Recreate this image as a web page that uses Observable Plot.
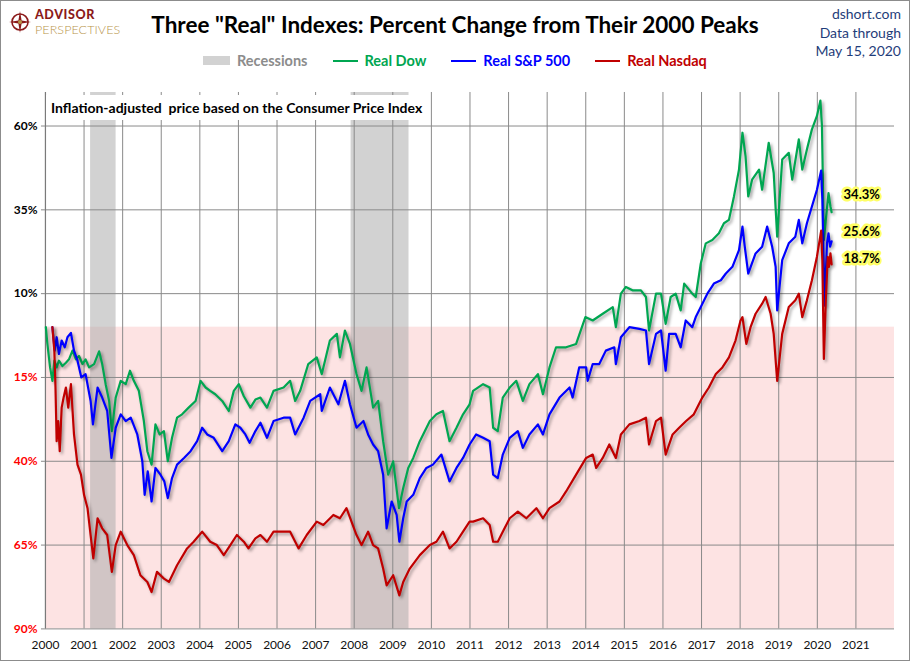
<!DOCTYPE html>
<html><head><meta charset="utf-8">
<script src="https://cdn.jsdelivr.net/npm/d3@7"></script>
<script src="https://cdn.jsdelivr.net/npm/@observablehq/plot@0.6"></script>
<style>
html,body{margin:0;padding:0;background:#fff;}
body{font-family:Lato,"DejaVu Sans",sans-serif;}
#wrap{position:relative;width:910px;height:661px;box-sizing:border-box;border:1px solid #8c8c8c;overflow:hidden;background:#fff;}
#logo{position:absolute;left:7px;top:6px;display:flex;align-items:center;}
#logo .t1{font-weight:900;color:#8b1a1a;font-size:12.5px;line-height:15px;letter-spacing:0.6px;}
#logo .t2{font-weight:300;color:#b8944a;font-size:12.5px;line-height:15px;letter-spacing:0.1px;}
#title{position:absolute;left:0;width:908px;top:10px;text-align:center;font-weight:700;font-size:22.5px;color:#000;}
#src{position:absolute;right:8px;top:4px;text-align:right;color:#1f3d7a;font-size:14px;line-height:18.5px;}
#legend{position:absolute;top:51px;left:202px;display:flex;align-items:center;font-weight:700;font-size:14.5px;}
#legend .item{display:flex;align-items:center;margin-right:25px;}
#legend .sw{margin-right:7px;}
#chart{position:absolute;left:-1px;top:84px;}
#note{position:absolute;left:45px;top:94px;width:380px;height:25px;background:#fff;font-weight:700;font-size:14px;line-height:25px;padding-left:5px;box-sizing:border-box;color:#000;white-space:nowrap;}
</style></head><body>
<div id="wrap">
  <div id="logo">
    <svg width="24" height="24" viewBox="-12 -12 24 24" style="margin-right:3px">
      <circle r="8" fill="none" stroke="#8b1a1a" stroke-width="1.6"/>
      <path d="M0,-11 L1.6,-1.6 L11,0 L1.6,1.6 L0,11 L-1.6,1.6 L-11,0 L-1.6,-1.6 Z" fill="#8b1a1a"/>
      <circle r="2" fill="#b8944a"/>
    </svg>
    <div><div class="t1">ADVISOR</div><div class="t2">PERSPECTIVES</div></div>
  </div>
  <div id="title">Three "Real" Indexes: Percent Change from Their 2000 Peaks</div>
  <div id="src">dshort.com<br>Data through<br>May 15, 2020</div>
  <div id="legend"></div>
  <div id="chart"></div>
  <div id="note">Inflation-adjusted&nbsp; price based on the Consumer Price Index</div>
</div>
<script>
// ---------------- data ----------------
const seriesNames = ["Real Dow", "Real S&P 500", "Real Nasdaq"];
const seriesColors = ["#00a651", "#0000ff", "#c00000"];
const recessionLabel = "Recessions";
const recessionStarts = [2001.17, 2007.92];
const recessionEnds = [2001.83, 2009.42];
const yTicks = [-90, -65, -40, -15, 10, 35, 60];
const xTicks = d3.range(2000, 2022);
const lastValues = [34.3, 25.6, 18.7];
const lastDate = 2020.37;

// [year, percent change from 2000 peak]
const dow = [
[2000.01,0],[2000.05,-5],[2000.12,-12],[2000.18,-16],[2000.23,-10],[2000.29,-12],[2000.35,-10],[2000.44,-11.6],[2000.53,-10.6],[2000.61,-9.6],[2000.70,-7],[2000.79,-9.6],[2000.87,-8.6],[2000.96,-11],[2001.04,-9.6],[2001.13,-12],[2001.26,-11],[2001.39,-7.2],[2001.47,-11],[2001.56,-17],[2001.65,-22],[2001.72,-31],[2001.82,-21],[2001.95,-16],[2002.08,-17],[2002.19,-13],[2002.29,-16],[2002.42,-19],[2002.55,-28],[2002.64,-37],[2002.75,-41],[2002.85,-29],[2002.96,-32],[2003.07,-31],[2003.17,-40],[2003.28,-33],[2003.41,-27],[2003.54,-26],[2003.71,-24],[2003.89,-22],[2004.02,-16],[2004.15,-18],[2004.27,-19],[2004.40,-20],[2004.58,-22],[2004.75,-25],[2004.88,-19],[2005.01,-17],[2005.14,-20.6],[2005.31,-24],[2005.44,-21.6],[2005.57,-21],[2005.74,-24],[2005.91,-19],[2006.17,-18],[2006.34,-16],[2006.47,-22],[2006.60,-19],[2006.81,-11],[2007.03,-9],[2007.16,-14],[2007.37,-4],[2007.55,-2],[2007.63,-9],[2007.76,-1],[2007.89,-5],[2008.06,-14],[2008.19,-19],[2008.32,-12],[2008.49,-24],[2008.62,-22],[2008.75,-34],[2008.88,-44],[2009.01,-40],[2009.16,-54],[2009.27,-48],[2009.40,-42],[2009.53,-39],[2009.70,-34],[2009.96,-28],[2010.13,-26],[2010.30,-25],[2010.47,-34],[2010.65,-30],[2010.82,-26],[2010.99,-23],[2011.08,-19],[2011.34,-17],[2011.51,-18],[2011.60,-30],[2011.72,-31],[2011.85,-21],[2012.03,-18],[2012.20,-16],[2012.37,-22],[2012.54,-17],[2012.76,-14],[2012.89,-20],[2013.06,-12],[2013.23,-6],[2013.49,-6],[2013.75,-5],[2013.99,3],[2014.18,2],[2014.44,4],[2014.70,6],[2014.78,0],[2014.91,10],[2015.04,12],[2015.21,11],[2015.43,11],[2015.56,9],[2015.64,-1],[2015.82,10],[2015.95,10],[2016.07,1],[2016.20,9],[2016.33,10],[2016.46,5],[2016.55,13],[2016.76,10],[2016.85,9],[2016.98,19],[2017.11,25],[2017.28,26],[2017.45,28],[2017.58,31],[2017.71,32],[2017.84,39],[2017.97,47],[2018.06,58],[2018.14,51],[2018.21,39],[2018.31,44],[2018.49,47],[2018.57,41],[2018.74,55],[2018.87,46],[2018.96,27],[2019.09,50],[2019.26,52],[2019.35,44],[2019.52,56],[2019.61,47],[2019.73,53],[2019.86,59],[2019.99,63],[2020.08,67.6],[2020.12,60],[2020.17,26],[2020.22,32],[2020.29,40],[2020.34,36],[2020.37,34.3]
];
const sp500 = [
[2000.18,0],[2000.24,-7],[2000.29,-3],[2000.35,-8],[2000.42,-4],[2000.50,-6],[2000.57,-3],[2000.66,-1.7],[2000.74,-7],[2000.83,-10],[2000.93,-15],[2001.04,-14],[2001.17,-22],[2001.23,-29],[2001.35,-18],[2001.47,-21],[2001.60,-25],[2001.71,-39],[2001.82,-30],[2001.95,-26],[2002.08,-28],[2002.21,-27],[2002.38,-32],[2002.51,-40],[2002.57,-50],[2002.65,-43],[2002.75,-52],[2002.85,-42],[2002.98,-44],[2003.08,-46],[2003.17,-51],[2003.28,-45],[2003.41,-41],[2003.59,-39],[2003.76,-37],[2003.93,-34],[2004.06,-30],[2004.19,-32],[2004.36,-33],[2004.58,-37],[2004.75,-34],[2004.92,-29],[2005.05,-30],[2005.18,-32],[2005.29,-34.5],[2005.44,-31],[2005.57,-28.5],[2005.74,-33],[2005.91,-28],[2006.17,-27],[2006.34,-27],[2006.47,-32],[2006.69,-27],[2006.86,-22],[2007.12,-20],[2007.16,-25],[2007.37,-18],[2007.59,-23],[2007.76,-16],[2007.89,-23],[2008.06,-30],[2008.24,-28],[2008.36,-32],[2008.49,-35],[2008.62,-37],[2008.75,-44],[2008.84,-60],[2008.97,-52],[2009.10,-56],[2009.17,-64],[2009.27,-57],[2009.36,-52],[2009.53,-50],[2009.70,-45],[2009.87,-42],[2010.04,-41],[2010.26,-38],[2010.47,-46],[2010.65,-42],[2010.82,-39],[2010.99,-35],[2011.16,-32],[2011.34,-33],[2011.51,-34],[2011.60,-44],[2011.72,-45],[2011.85,-38],[2012.03,-33],[2012.24,-31],[2012.37,-36],[2012.54,-32],[2012.76,-29],[2012.89,-32],[2013.06,-26],[2013.32,-21],[2013.58,-18],[2013.66,-21],[2013.83,-12],[2014.01,-12],[2014.05,-16],[2014.18,-11],[2014.35,-11],[2014.52,-7],[2014.74,-6],[2014.78,-11],[2014.91,-3],[2015.13,0],[2015.39,-0.5],[2015.56,-1],[2015.64,-11],[2015.82,-2],[2015.95,-1],[2016.07,-13],[2016.16,-2],[2016.33,-2],[2016.46,-6],[2016.59,2],[2016.76,0],[2016.85,3],[2016.98,6],[2017.15,10],[2017.32,13],[2017.50,14],[2017.63,16],[2017.80,18],[2017.97,23],[2018.06,30],[2018.12,24],[2018.21,16],[2018.40,22],[2018.57,24],[2018.70,30],[2018.83,24],[2018.92,18],[2018.96,5],[2019.09,20],[2019.26,25],[2019.43,27],[2019.52,32],[2019.61,25],[2019.73,31],[2019.86,36],[2019.99,41],[2020.10,46.7],[2020.13,38],[2020.19,6.4],[2020.25,25],[2020.29,28],[2020.33,24],[2020.37,25.6]
];
const nasdaq = [
[2000.18,0],[2000.23,-7],[2000.26,-18],[2000.29,-34],[2000.33,-28],[2000.37,-37],[2000.42,-24],[2000.47,-21],[2000.53,-18],[2000.59,-24],[2000.66,-17],[2000.74,-32],[2000.83,-41],[2000.92,-44],[2001.00,-50],[2001.09,-54],[2001.17,-62],[2001.24,-69],[2001.35,-57],[2001.47,-60],[2001.60,-62],[2001.72,-73],[2001.82,-65],[2001.95,-61],[2002.12,-65],[2002.29,-68],[2002.46,-74],[2002.64,-76],[2002.75,-79],[2002.89,-73],[2003.07,-75],[2003.20,-76],[2003.41,-71],[2003.67,-66],[2003.84,-64],[2004.06,-61],[2004.27,-64],[2004.44,-65],[2004.62,-68],[2004.79,-65],[2004.96,-62],[2005.14,-64],[2005.26,-66],[2005.44,-63],[2005.57,-62],[2005.74,-64],[2005.91,-61],[2006.17,-61],[2006.34,-61],[2006.56,-66],[2006.77,-62],[2007.03,-58],[2007.20,-59],[2007.46,-56],[2007.63,-57],[2007.80,-54],[2007.93,-58],[2008.06,-62],[2008.19,-65],[2008.36,-61],[2008.49,-65],[2008.62,-66],[2008.75,-72],[2008.84,-77],[2009.01,-74],[2009.17,-80],[2009.27,-76],[2009.44,-72],[2009.70,-68],[2009.96,-65],[2010.13,-64],[2010.30,-61],[2010.47,-66],[2010.65,-64],[2010.82,-61],[2010.99,-58],[2011.08,-58],[2011.34,-57],[2011.51,-59],[2011.60,-64],[2011.72,-64],[2011.85,-61],[2012.03,-57],[2012.24,-55],[2012.46,-57],[2012.72,-54],[2012.89,-57],[2013.06,-54],[2013.32,-52],[2013.49,-49],[2013.75,-44],[2014.01,-39],[2014.18,-38],[2014.27,-42],[2014.44,-39],[2014.61,-35],[2014.78,-39],[2014.91,-32],[2015.13,-29],[2015.39,-28],[2015.56,-27],[2015.64,-35],[2015.82,-28],[2015.95,-27],[2016.07,-38],[2016.25,-32],[2016.42,-30],[2016.60,-28],[2016.80,-26],[2017.02,-21],[2017.19,-18],[2017.37,-14],[2017.54,-12],[2017.71,-9],[2017.88,-4],[2018.01,2],[2018.06,3],[2018.16,-5],[2018.27,0],[2018.40,4],[2018.57,7],[2018.66,9],[2018.79,4],[2018.87,-2],[2018.96,-16],[2019.09,-2],[2019.26,6],[2019.43,8],[2019.52,10],[2019.61,3],[2019.73,8],[2019.86,14],[2019.99,21],[2020.10,28.8],[2020.13,20],[2020.17,-9.5],[2020.22,8],[2020.27,21],[2020.30,18],[2020.34,22],[2020.37,18.7]
];
const seriesData = [dow, sp500, nasdaq];

// ---------------- legend ----------------
const legend = document.getElementById("legend");
{
  const it = document.createElement("div"); it.className = "item";
  it.innerHTML = `<span class="sw" style="display:inline-block;width:27px;height:9px;background:#d2d2d2"></span><span style="color:#8c8c8c">${recessionLabel}</span>`;
  legend.appendChild(it);
}
seriesNames.forEach((n, i) => {
  const it = document.createElement("div"); it.className = "item";
  it.innerHTML = `<span class="sw" style="display:inline-block;width:25px;height:2px;background:${seriesColors[i]}"></span><span style="color:${seriesColors[i]}">${n.replace("&","&amp;")}</span>`;
  legend.appendChild(it);
});

// ---------------- chart ----------------
const X0 = 2000, X1 = 2022, Y0 = -90, Y1 = 70;
const recessions = recessionStarts.map((s, i) => ({start: s, end: recessionEnds[i]}));
const gridColor = "#8a8a8a";
const nudges = [-17, -10, -6];

const marks = [
  Plot.rect([{}], {x1: X0, x2: X1, y1: Y0, y2: 0, fill: "#fde3e3"}),
  Plot.rect(recessions, {x1: "start", x2: "end", y1: Y0, y2: Y1, fill: "#adadad", fillOpacity: 0.55}),
  Plot.gridX({ticks: xTicks, stroke: gridColor, strokeOpacity: 1, strokeWidth: 1}),
  Plot.gridY({ticks: yTicks, stroke: gridColor, strokeOpacity: 1, strokeWidth: 1}),
  Plot.ruleX([X0], {stroke: "#7a7a7a", strokeWidth: 1.2}),
  Plot.axisY({ticks: yTicks.filter(d => d >= 0), tickFormat: d => Math.abs(d) + "%", fill: "#000", fontWeight: "bold", fontSize: 12, tickSize: 4, tickPadding: 4, stroke: gridColor, label: null}),
  Plot.axisY({ticks: yTicks.filter(d => d < 0), tickFormat: d => Math.abs(d) + "%", fill: "#ff0000", fontWeight: "bold", fontSize: 12, tickSize: 4, tickPadding: 4, stroke: gridColor, label: null}),
  Plot.axisX({ticks: xTicks, tickFormat: d => String(d), tickSize: 0, tickPadding: 12, fontSize: 12, fill: "#111", label: null}),
  ...seriesData.map((s, i) => Plot.line(s, {x: d => d[0], y: d => d[1], stroke: seriesColors[i], strokeWidth: 2.2, curve: "linear"})),
  ...lastValues.map((v, i) => Plot.text([{x: lastDate, y: v}], {x: "x", y: "y", text: d => d.y.toFixed(1) + "%", textAnchor: "start", dx: 12, dy: nudges[i], fontWeight: "bold", fontSize: 13, fill: "#000", stroke: "#ffff66", strokeWidth: 5, paintOrder: "stroke"}))
];

const chart = Plot.plot({
  width: 910,
  height: 576,
  marginLeft: 45,
  marginRight: 15,
  marginTop: 7,
  marginBottom: 32,
  style: {fontFamily: "Lato, 'DejaVu Sans', sans-serif", background: "transparent", overflow: "visible"},
  x: {type: "linear", domain: [X0, X1]},
  y: {type: "linear", domain: [Y0, Y1]},
  marks
});
document.getElementById("chart").appendChild(chart);
chart.querySelectorAll('g[aria-label="line"] path').forEach(p => {
  p.style.filter = "drop-shadow(2px 2px 1.5px rgba(0,0,0,0.35))";
});
</script>
</body></html>
